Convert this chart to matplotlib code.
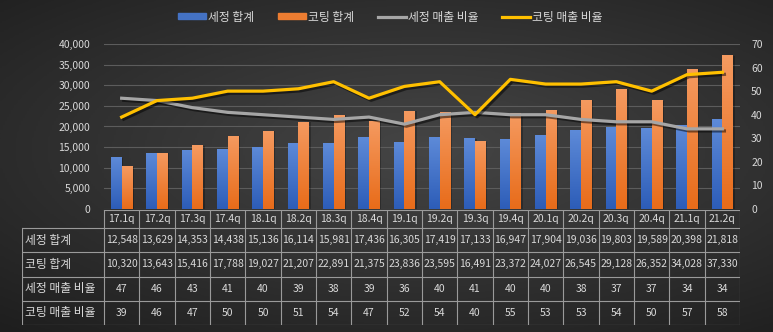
import numpy as np
import matplotlib.pyplot as plt
from matplotlib import patheffects as pe
from matplotlib.patches import Rectangle
from matplotlib.lines import Line2D

plt.rcParams['font.family'] = ['Noto Sans CJK KR', 'DejaVu Sans']

quarters = ['17.1q', '17.2q', '17.3q', '17.4q', '18.1q', '18.2q', '18.3q', '18.4q', '19.1q',
            '19.2q', '19.3q', '19.4q', '20.1q', '20.2q', '20.3q', '20.4q', '21.1q', '21.2q']
wash_total = [12548, 13629, 14353, 14438, 15136, 16114, 15981, 17436, 16305,
              17419, 17133, 16947, 17904, 19036, 19803, 19589, 20398, 21818]
coat_total = [10320, 13643, 15416, 17788, 19027, 21207, 22891, 21375, 23836,
              23595, 16491, 23372, 24027, 26545, 29128, 26352, 34028, 37330]
wash_ratio = [47, 46, 43, 41, 40, 39, 38, 39, 36, 40, 41, 40, 40, 38, 37, 37, 34, 34]
coat_ratio = [39, 46, 47, 50, 50, 51, 54, 47, 52, 54, 40, 55, 53, 53, 54, 50, 57, 58]
series_names = ['세정 합계', '코팅 합계', '세정 매출 비율', '코팅 매출 비율']

W, H = 773, 332
txt = '#d9d9d9'
fs_num = 7.5   # digits
fs_kr = 8.5    # hangul labels
fig = plt.figure(figsize=(W / 100, H / 100), dpi=100)

# dark radial background
bg = fig.add_axes([0, 0, 1, 1], zorder=-10)
yy, xx = np.mgrid[0:1:200j, 0:1:400j]
r = np.sqrt(((xx - 0.55) / 0.9) ** 2 + ((yy - 0.55) / 0.8) ** 2)
bg.imshow(np.clip(r, 0, 1), cmap=plt.matplotlib.colors.LinearSegmentedColormap.from_list(
    'bg', ['#454545', '#1e1e1e']), aspect='auto', extent=[0, 1, 0, 1], origin='lower')
bg.axis('off')


def px(x0, y0, x1, y1):
    return [x0 / W, 1 - y1 / H, (x1 - x0) / W, (y1 - y0) / H]


ax = fig.add_axes(px(104, 44, 740, 209))
ax.patch.set_alpha(0)
x = np.arange(len(quarters))
bw = 0.3


def grad_bars(xs, vals, top, bottom):
    cmap = plt.matplotlib.colors.LinearSegmentedColormap.from_list('g', [bottom, top])
    bars = ax.bar(xs, vals, bw, color='none', zorder=2)
    for b in bars:
        bx, by = b.get_x(), b.get_y()
        # soft drop shadow to the right of each bar
        ax.add_patch(Rectangle((bx + 0.05, by), b.get_width(), b.get_height() - 150,
                               color='black', alpha=0.25, lw=0, zorder=1.9))
        im = ax.imshow(np.linspace(0, 1, 50).reshape(-1, 1), cmap=cmap, aspect='auto',
                       origin='lower', extent=[bx, bx + b.get_width(), by, by + b.get_height()],
                       zorder=2)
        im.set_clip_path(b)
    return bars


grad_bars(x - bw / 2, wash_total, '#5d8ad8', '#2d5db8')
grad_bars(x + bw / 2, coat_total, '#f59a60', '#e86c1a')
ax.set_xlim(-0.5, len(quarters) - 0.5)
ax.set_ylim(0, 40000)
ax.set_yticks(np.arange(0, 40001, 5000))
ax.set_yticklabels([f'{v:,}' for v in range(0, 40001, 5000)])
ax.set_xticks([])
ax.grid(axis='y', color='#5c5c5c', lw=0.8)
ax.set_axisbelow(True)
for s in ax.spines.values():
    s.set_visible(False)
ax.tick_params(axis='y', length=0, pad=10, colors=txt, labelsize=fs_num)

ax2 = ax.twinx()
shadow = [pe.SimpleLineShadow(offset=(1.5, -1.5), shadow_color='black', alpha=0.5), pe.Normal()]
ax2.plot(x, wash_ratio, color='#a6a6a6', lw=2.3, path_effects=shadow, zorder=3)
ax2.plot(x, coat_ratio, color='#ffc000', lw=2.3, path_effects=shadow, zorder=3)
ax2.set_ylim(0, 70)
ax2.set_yticks(np.arange(0, 71, 10))
for s in ax2.spines.values():
    s.set_visible(False)
ax2.tick_params(axis='y', length=0, pad=8, colors=txt, labelsize=fs_num)

# legend
handles = [Rectangle((0, 0), 1, 1, color='#4472c4'), Rectangle((0, 0), 1, 1, color='#ed7d31'),
           Line2D([], [], color='#a6a6a6', lw=2.3), Line2D([], [], color='#ffc000', lw=2.3)]
fig.legend(handles, series_names, loc='center', bbox_to_anchor=(0.505, 1 - 17 / H), ncol=4,
           frameon=False, fontsize=fs_kr, labelcolor=txt, handlelength=2.4, handleheight=0.45,
           handletextpad=0.15, columnspacing=2.0)

# data table under the chart
lab_w = 82 / ((740 - 104) / 18)
tax = fig.add_axes(px(22, 210, 740, 325))
tax.set_xlim(-0.5 - lab_w, len(quarters) - 0.5)
tax.set_ylim(114, 0)
tax.axis('off')
line_c = '#9a9a9a'
row_tops = [18, 42, 66, 90, 114]
rows = [[f'{v:,}' for v in wash_total], [f'{v:,}' for v in coat_total],
        [str(v) for v in wash_ratio], [str(v) for v in coat_ratio]]
# horizontal rules
tax.plot([-0.5, len(quarters) - 0.5], [0, 0], color=line_c, lw=0.8)
for yv in row_tops:
    tax.plot([-0.5 - lab_w, len(quarters) - 0.5], [yv, yv], color=line_c, lw=0.8)
# vertical rules
tax.plot([-0.5 - lab_w] * 2, [18, 114], color=line_c, lw=0.8)
for xv in np.arange(len(quarters) + 1) - 0.5:
    tax.plot([xv, xv], [0, 114], color=line_c, lw=0.8)
for i, q in enumerate(quarters):
    tax.text(i, 9, q, ha='center', va='center', color=txt, fontsize=fs_num)
for r_i, (name, vals) in enumerate(zip(series_names, rows)):
    yc = (row_tops[r_i] + row_tops[r_i + 1]) / 2
    tax.text(-0.5 - lab_w + 0.08, yc, name, ha='left', va='center', color=txt, fontsize=fs_kr)
    for i, v in enumerate(vals):
        tax.text(i, yc, v, ha='center', va='center', color=txt, fontsize=fs_num)

fig.savefig('out.png', dpi=100)
